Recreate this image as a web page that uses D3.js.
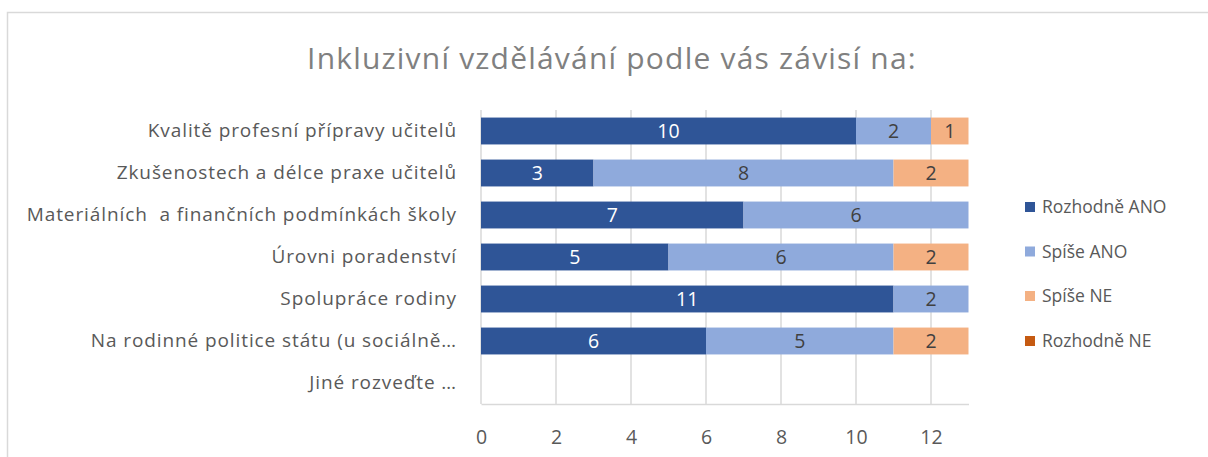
<!DOCTYPE html>
<html>
<head>
<meta charset="utf-8">
<script src="https://cdn.jsdelivr.net/npm/d3@7"></script>
<style>
  html, body { margin: 0; padding: 0; background: #fff; }
  svg { display: block; }
  text { white-space: pre; }
</style>
</head>
<body>
<svg id="chart" width="1208" height="457"></svg>
<script>
const title = "Inkluzivní vzdělávání podle vás závisí na:";
const categories = [
  "Kvalitě profesní přípravy učitelů",
  "Zkušenostech a délce praxe učitelů",
  "Materiálních  a finančních podmínkách školy",
  "Úrovni poradenství",
  "Spolupráce rodiny",
  "Na rodinné politice státu (u sociálně…",
  "Jiné rozveďte …"
];
const seriesNames = ["Rozhodně ANO", "Spíše ANO", "Spíše NE", "Rozhodně NE"];
const rozhodneAno = [10, 3, 7, 5, 11, 6, 0];
const spiseAno    = [2, 8, 6, 6, 2, 5, 0];
const spiseNe     = [1, 2, 0, 2, 0, 2, 0];
const rozhodneNe  = [0, 0, 0, 0, 0, 0, 0];
const xTicks = [0, 2, 4, 6, 8, 10, 12];
const xMax = 13;

const colors = ["#2F5597", "#8FAADC", "#F4B183", "#C55A11"];
const labelColors = ["#ffffff", "#404040", "#404040", "#ffffff"];
const font = "'Open Sans', sans-serif";

const rows = categories.map((c, i) => ({
  cat: c,
  "Rozhodně ANO": rozhodneAno[i],
  "Spíše ANO": spiseAno[i],
  "Spíše NE": spiseNe[i],
  "Rozhodně NE": rozhodneNe[i]
}));

const svg = d3.select("#chart");

// chart frame
svg.append("rect")
  .attr("x", 7.5).attr("y", 12.5)
  .attr("width", 1220).attr("height", 460)
  .attr("fill", "#fff").attr("stroke", "#d9d9d9").attr("stroke-width", 1.5);

// title
svg.append("text")
  .attr("x", 612).attr("y", 69)
  .attr("text-anchor", "middle")
  .attr("font-family", font)
  .attr("font-size", 30)
  .attr("letter-spacing", 1.2)
  .attr("fill", "#808080")
  .text(title);

const plotLeft = 481, plotRight = 968.5, plotTop = 110, plotBottom = 404;

const x = d3.scaleLinear().domain([0, xMax]).range([plotLeft, plotRight]);
const y = d3.scaleBand().domain(categories).range([plotTop, plotBottom]).paddingInner(0.36).paddingOuter(0.18);

// gridlines
svg.append("g")
  .selectAll("line")
  .data(xTicks)
  .join("line")
  .attr("x1", d => x(d)).attr("x2", d => x(d))
  .attr("y1", plotTop).attr("y2", plotBottom)
  .attr("stroke", "#d9d9d9").attr("stroke-width", 1.5);

// bars
const stack = d3.stack().keys(seriesNames);
const stacked = stack(rows);

const groups = svg.append("g")
  .selectAll("g")
  .data(stacked)
  .join("g")
  .attr("fill", (d, i) => colors[i]);

groups.selectAll("rect")
  .data(d => d)
  .join("rect")
  .attr("x", d => x(d[0]))
  .attr("y", d => y(d.data.cat))
  .attr("width", d => x(d[1]) - x(d[0]))
  .attr("height", y.bandwidth());

// data labels
stacked.forEach((s, si) => {
  svg.append("g")
    .selectAll("text")
    .data(s.filter(d => d[1] - d[0] > 0))
    .join("text")
    .attr("x", d => (x(d[0]) + x(d[1])) / 2)
    .attr("y", d => y(d.data.cat) + y.bandwidth() / 2)
    .attr("dy", "0.36em")
    .attr("text-anchor", "middle")
    .attr("font-family", font)
    .attr("font-size", 19.5)
    .attr("fill", labelColors[si])
    .text(d => d[1] - d[0]);
});

// x axis
const xAxis = d3.axisBottom(x).tickValues(xTicks).tickSize(0).tickPadding(26);
const gx = svg.append("g").attr("transform", `translate(0,${plotBottom})`).call(xAxis);
gx.select(".domain").attr("stroke", "#d9d9d9").attr("stroke-width", 1.5);
gx.selectAll("text").attr("font-family", font).attr("font-size", 19.5).attr("fill", "#595959");

// y axis
const yAxis = d3.axisLeft(y).tickSize(0).tickPadding(24);
const gy = svg.append("g").attr("transform", `translate(${plotLeft},0)`).call(yAxis);
gy.select(".domain").remove();
gy.selectAll("text").attr("font-family", font).attr("font-size", 19)
  .attr("letter-spacing", 0.9).attr("fill", "#595959");

// legend
const legend = svg.append("g").attr("transform", "translate(1025,0)");
const legY = [207, 251.5, 296, 341];
seriesNames.forEach((n, i) => {
  const g = legend.append("g").attr("transform", `translate(0,${legY[i]})`);
  g.append("rect").attr("x", 0).attr("y", -5).attr("width", 10).attr("height", 10).attr("fill", colors[i]);
  g.append("text").attr("x", 17).attr("y", 0).attr("dy", "0.36em")
    .attr("font-family", font).attr("font-size", 17.5).attr("fill", "#595959").text(n);
});
</script>
</body>
</html>
